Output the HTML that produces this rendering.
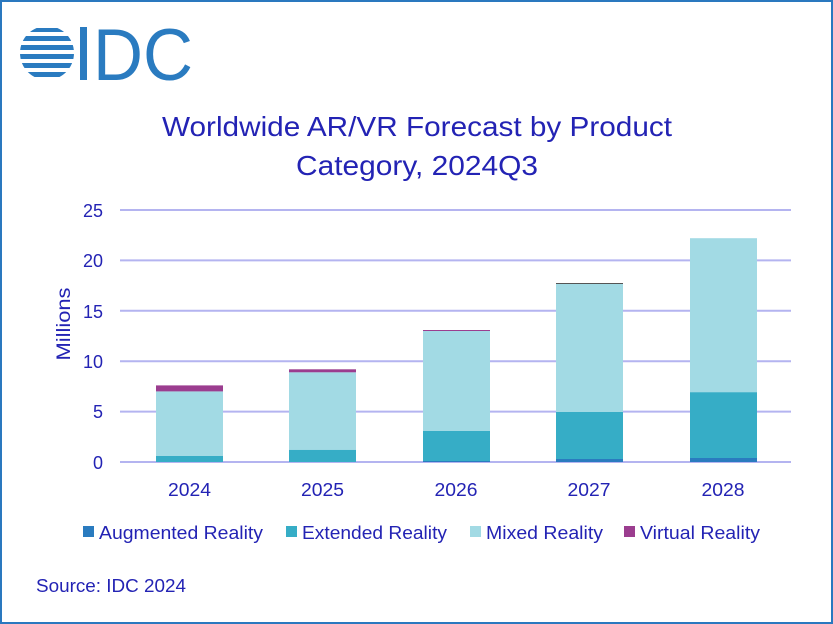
<!DOCTYPE html>
<html><head><style>
html,body{margin:0;padding:0;background:#fff}
svg{display:block}
text{font-family:"Liberation Sans",sans-serif;fill:#2323b4}
</style></head><body>
<svg width="833" height="624" viewBox="0 0 833 624" xmlns="http://www.w3.org/2000/svg">
<rect x="1" y="1" width="831" height="622" fill="#fff" stroke="#2a78bf" stroke-width="2"/>
<!-- logo -->
<g fill="#2a7bc0">
<clipPath id="c"><circle cx="47" cy="53" r="27"/></clipPath>
<g clip-path="url(#c)">
<rect x="20" y="28" width="54" height="4"/>
<rect x="20" y="36" width="54" height="5"/>
<rect x="20" y="45" width="54" height="5"/>
<rect x="20" y="54" width="54" height="5"/>
<rect x="20" y="63" width="54" height="5"/>
<rect x="20" y="72" width="54" height="5"/>
</g>
<rect x="80" y="27" width="7" height="53"/>
</g>
<text x="93" y="80" textLength="100" lengthAdjust="spacingAndGlyphs" style="font-size:73px;fill:#2a7bc0">DC</text>
<!-- title -->
<text x="162" y="136" textLength="510" lengthAdjust="spacingAndGlyphs" style="font-size:28px">Worldwide AR/VR Forecast by Product</text>
<text x="296" y="175" textLength="242" lengthAdjust="spacingAndGlyphs" style="font-size:28px">Category, 2024Q3</text>
<!-- grid -->
<g stroke="#b4b4f0" stroke-width="2">
<line x1="120" x2="791" y1="210" y2="210"/>
<line x1="120" x2="791" y1="260.4" y2="260.4"/>
<line x1="120" x2="791" y1="310.8" y2="310.8"/>
<line x1="120" x2="791" y1="361.2" y2="361.2"/>
<line x1="120" x2="791" y1="411.6" y2="411.6"/>
<line x1="120" x2="791" y1="462" y2="462"/>
</g>
<g style="font-size:18px" text-anchor="end">
<text x="103" y="217">25</text><text x="103" y="267">20</text><text x="103" y="318">15</text>
<text x="103" y="368">10</text><text x="103" y="418">5</text><text x="103" y="469">0</text>
</g>
<text transform="translate(70 324) rotate(-90)" text-anchor="middle" textLength="73" lengthAdjust="spacingAndGlyphs" style="font-size:19px">Millions</text>
<!-- bars -->
<g>
<rect x="156" y="391.4" width="67" height="64.6" fill="#a2dae4"/>
<rect x="156" y="385.4" width="67" height="6" fill="#9b3d8f"/>
<rect x="156" y="456" width="67" height="6" fill="#36adc6"/>

<rect x="289" y="372.3" width="67" height="77.6" fill="#a2dae4"/>
<rect x="289" y="369.3" width="67" height="3" fill="#9b3d8f"/>
<rect x="289" y="449.9" width="67" height="12.1" fill="#36adc6"/>

<rect x="423" y="331" width="67" height="100" fill="#a2dae4"/>
<rect x="423" y="330" width="67" height="1" fill="#9b3d8f"/>
<rect x="423" y="431" width="67" height="30" fill="#36adc6"/>
<rect x="423" y="461" width="67" height="1" fill="#2a7bbf"/>

<rect x="556" y="284" width="67" height="128" fill="#a2dae4"/>
<rect x="556" y="283" width="67" height="1" fill="#555"/>
<rect x="556" y="412" width="67" height="47" fill="#36adc6"/>
<rect x="556" y="459" width="67" height="3" fill="#2a7bbf"/>

<rect x="690" y="238.2" width="67" height="154" fill="#a2dae4"/>
<rect x="690" y="392.2" width="67" height="65.8" fill="#36adc6"/>
<rect x="690" y="458" width="67" height="4" fill="#2a7bbf"/>
</g>
<g style="font-size:18px">
<text x="168" y="496" textLength="43" lengthAdjust="spacingAndGlyphs">2024</text>
<text x="301" y="496" textLength="43" lengthAdjust="spacingAndGlyphs">2025</text>
<text x="434.5" y="496" textLength="43" lengthAdjust="spacingAndGlyphs">2026</text>
<text x="567.5" y="496" textLength="43" lengthAdjust="spacingAndGlyphs">2027</text>
<text x="701.5" y="496" textLength="43" lengthAdjust="spacingAndGlyphs">2028</text>
</g>
<!-- legend -->
<g style="font-size:18px">
<rect x="83" y="526" width="11" height="11" fill="#2a7bbf"/><text x="99" y="539" textLength="164" lengthAdjust="spacingAndGlyphs">Augmented Reality</text>
<rect x="286" y="526" width="11" height="11" fill="#36adc6"/><text x="302" y="539" textLength="145" lengthAdjust="spacingAndGlyphs">Extended Reality</text>
<rect x="470" y="526" width="11" height="11" fill="#a2dae4"/><text x="486" y="539" textLength="117" lengthAdjust="spacingAndGlyphs">Mixed Reality</text>
<rect x="624" y="526" width="11" height="11" fill="#9b3d8f"/><text x="640" y="539" textLength="120" lengthAdjust="spacingAndGlyphs">Virtual Reality</text>
</g>
<text x="36" y="592" textLength="150" lengthAdjust="spacingAndGlyphs" style="font-size:18px">Source: IDC 2024</text>
</svg>
</body></html>
